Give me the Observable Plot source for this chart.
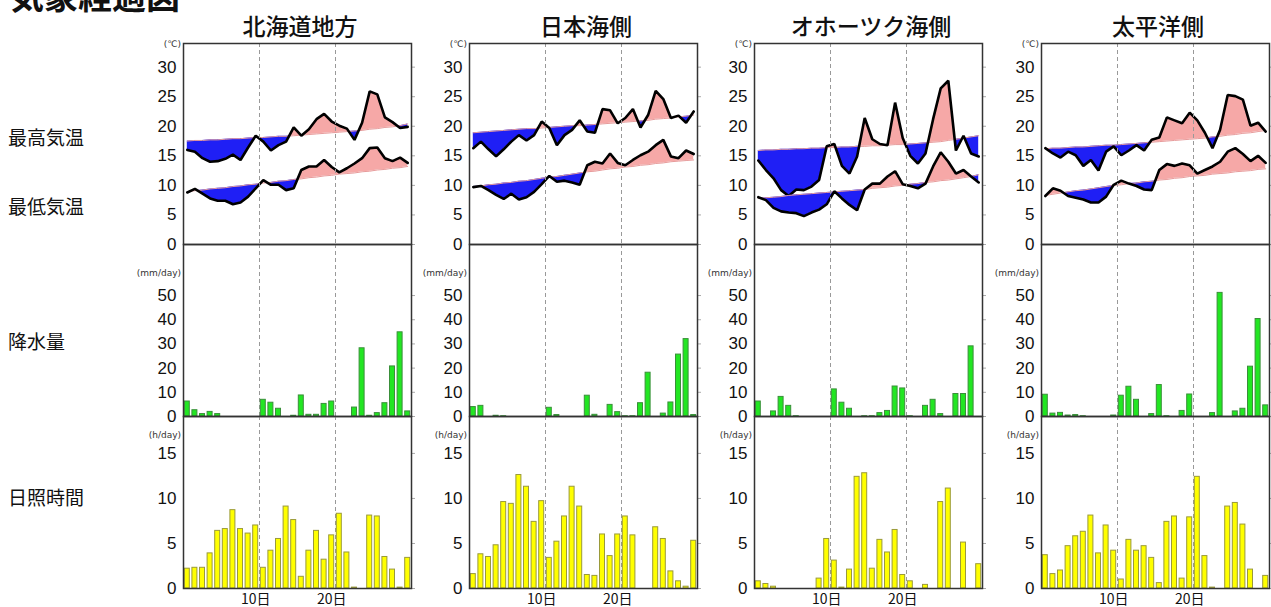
<!DOCTYPE html>
<html>
<head>
<meta charset="utf-8">
<script src="https://cdn.jsdelivr.net/npm/d3@7"></script>
<script src="https://cdn.jsdelivr.net/npm/@observablehq/plot@0.6"></script>
<style>
  html, body { margin: 0; padding: 0; background: #fff; overflow: hidden; }
  #chart { position: relative; width: 1271px; height: 607px; overflow: hidden; background: #fff; }
  .lbl { position: absolute; white-space: nowrap; color: #111; font-family: "Noto Sans CJK JP", "Noto Sans", sans-serif; }
  .unit { position: absolute; white-space: nowrap; color: #333; font-family: "DejaVu Sans", "Liberation Sans", sans-serif; font-size: 9px; }
</style>
</head>
<body>
<div id="chart"></div>
<script>
// ---------------- data ----------------
const title = "気象経過図";
const regions = ["北海道地方", "日本海側", "オホーツク海側", "太平洋側"];
const rowLabels = ["最高気温", "最低気温", "降水量", "日照時間"];
const days = [1,2,3,4,5,6,7,8,9,10,11,12,13,14,15,16,17,18,19,20,21,22,23,24,25,26,27,28,29,30];
const decadeBoundaries = [10.5, 20.5];
const xTickDays = [10, 20];
const xTickLabels = ["10日", "20日"];
const tempTicks = [0, 5, 10, 15, 20, 25, 30];
const precipTicks = [0, 10, 20, 30, 40, 50];
const sunTicks = [0, 5, 10, 15];
const tempUnit = "(℃)", precipUnit = "(mm/day)", sunUnit = "(h/day)";

// 北海道地方
const hokkaidoMax = [16.0,15.7,14.6,14.0,14.1,14.5,15.2,14.3,16.4,18.4,17.4,15.9,16.8,17.4,19.8,18.4,19.5,21.2,22.1,20.8,20.1,19.6,17.7,20.6,25.9,25.4,21.5,20.7,19.7,19.9];
const hokkaidoMaxNormal = [17.5,17.6,17.6,17.7,17.7,17.8,17.9,17.9,18.0,18.1,18.1,18.2,18.3,18.3,18.4,18.5,18.6,18.7,18.8,18.9,19.0,19.1,19.2,19.3,19.5,19.6,19.8,19.9,20.1,20.4];
const hokkaidoMin = [8.8,9.4,8.6,7.8,7.4,7.4,6.8,7.1,8.1,9.5,10.9,10.1,10.1,9.2,9.5,12.6,13.2,13.2,14.3,13.1,12.2,12.9,13.7,14.6,16.3,16.4,14.6,14.1,14.7,13.8];
const hokkaidoMinNormal = [8.9,9.1,9.2,9.4,9.5,9.6,9.8,9.9,10.1,10.2,10.4,10.5,10.7,10.8,11.0,11.1,11.3,11.4,11.6,11.7,11.9,12.0,12.1,12.3,12.4,12.6,12.7,12.9,13.0,13.2];
const hokkaidoPrecip = [6.2,2.6,1.0,1.9,1.0,0,0,0,0,0,6.9,5.7,3.2,0,0.3,8.7,0.7,0.7,5.2,6.2,0,0,3.7,28.2,0.3,1.4,5.5,20.7,34.8,2.1];
const hokkaidoSun = [2.2,2.3,2.3,3.9,6.4,6.6,8.7,6.6,6.1,7.0,2.3,4.2,5.5,9.1,7.6,1.3,4.2,6.4,3.2,5.9,8.3,4.0,0.1,0,8.1,8.0,3.5,2.1,0.1,3.4];

// 日本海側
const japanSeaMax = [16.3,17.4,16.1,14.9,16.1,17.4,18.5,17.6,18.5,20.8,19.7,16.8,18.5,19.4,21.0,19.1,18.9,22.9,22.7,20.5,21.4,22.9,19.8,21.9,26.0,24.6,21.4,21.8,20.6,22.5];
const japanSeaMaxNormal = [18.9,19.0,19.1,19.2,19.3,19.4,19.5,19.6,19.6,19.7,19.8,19.9,20.0,20.1,20.1,20.2,20.3,20.4,20.5,20.6,20.7,20.8,20.9,21.0,21.2,21.3,21.4,21.6,21.7,21.9];
const japanSeaMin = [9.7,9.9,9.2,8.4,7.7,8.6,7.6,8.0,8.9,10.2,11.6,10.6,10.8,10.5,10.1,13.4,14.0,13.7,15.4,13.8,13.4,14.3,15.1,15.7,16.8,17.7,14.9,14.6,15.9,15.3];
const japanSeaMinNormal = [9.8,9.9,10.1,10.2,10.4,10.5,10.7,10.8,11.0,11.2,11.4,11.5,11.7,11.9,12.1,12.3,12.4,12.6,12.8,12.9,13.1,13.2,13.4,13.5,13.7,13.8,14.0,14.1,14.2,14.3];
const japanSeaPrecip = [3.9,4.4,0,0.3,0.1,0,0,0,0,0,3.6,0.6,0,0,0,8.6,0.7,0,4.8,1.8,0.1,0.1,5.5,18.1,0,1.2,5.8,25.6,32.0,0.6];
const japanSeaSun = [1.6,3.8,3.5,4.8,9.6,9.4,12.6,11.3,7.4,9.7,3.4,5.2,8.0,11.3,9.1,1.5,1.4,6.0,3.6,6.0,8.0,5.9,0,0,6.8,5.5,1.9,0.8,0.2,5.3];

// オホーツク海側
const okhotskMax = [14.2,12.6,11.2,9.2,8.2,9.3,9.2,9.8,10.9,16.6,17.0,13.3,12.0,14.9,21.4,17.8,17.0,16.8,24.0,18.0,15.0,13.7,15.4,21.2,26.4,27.7,15.9,18.4,15.4,14.9];
const okhotskMaxNormal = [15.9,16.0,16.0,16.1,16.1,16.2,16.2,16.3,16.3,16.4,16.4,16.5,16.5,16.6,16.6,16.7,16.7,16.8,16.9,16.9,17.0,17.1,17.2,17.3,17.4,17.6,17.8,18.0,18.2,18.4];
const okhotskMin = [8.0,7.5,6.2,5.6,5.4,5.3,4.8,5.4,5.9,6.8,9.0,7.8,6.7,5.8,9.3,10.3,10.3,11.5,12.4,10.2,9.9,9.5,10.3,13.2,15.6,14.0,12.0,12.6,11.5,10.5];
const okhotskMinNormal = [7.8,7.9,8.0,8.1,8.3,8.4,8.5,8.6,8.7,8.8,8.9,9.0,9.1,9.2,9.3,9.5,9.6,9.7,9.9,10.0,10.2,10.3,10.5,10.6,10.8,10.9,11.1,11.3,11.5,11.8];
const okhotskPrecip = [6.2,0,2.1,8.1,4.4,0.1,0,0,0,0,11.2,5.7,3.2,0,0.1,0.1,1.4,2.3,12.4,11.6,0.1,0,4.4,6.9,1.0,0,9.3,9.3,29.0,0];
const okhotskSun = [0.8,0.5,0.2,0,0,0,0,0,1.1,5.5,3.1,0.1,2.1,12.4,12.8,2.2,5.4,4.0,6.5,1.5,0.8,0,0.4,0,9.6,11.1,0,5.1,0,2.7];

// 太平洋側
const pacificMax = [16.3,15.4,14.7,15.7,15.1,13.3,14.3,12.5,15.7,16.6,15.1,15.9,16.8,15.9,17.7,18.1,21.5,21.0,20.5,22.3,21.0,18.9,16.3,19.4,25.3,25.1,24.5,20.1,20.6,19.1];
const pacificMaxNormal = [16.2,16.3,16.3,16.4,16.5,16.5,16.6,16.7,16.8,16.8,16.9,17.0,17.1,17.2,17.3,17.4,17.5,17.6,17.7,17.8,17.9,18.0,18.2,18.3,18.5,18.6,18.8,18.9,19.1,19.3];
const pacificMin = [8.2,9.5,9.1,8.2,7.9,7.6,7.1,7.1,8.1,10.1,10.8,10.3,9.9,9.3,9.2,12.6,13.6,13.3,13.7,13.4,12.0,12.6,13.2,14.0,15.7,16.3,15.3,14.1,15.0,13.8];
const pacificMinNormal = [8.3,8.5,8.7,8.9,9.1,9.2,9.4,9.6,9.8,10.0,10.1,10.3,10.4,10.6,10.7,10.9,11.0,11.2,11.3,11.5,11.6,11.7,11.9,12.0,12.1,12.3,12.4,12.5,12.7,12.8];
const pacificPrecip = [9.0,1.2,1.5,0.4,0.6,0.1,0,0,0,0.4,8.6,12.3,6.9,0,1.0,13.0,0.1,0,2.3,9.1,0,0,1.4,51.1,0,2.1,3.2,20.6,40.3,4.6];
const pacificSun = [3.7,1.6,2.0,4.7,5.8,6.3,8.1,3.9,7.0,4.2,1.0,5.4,4.2,4.7,3.4,0.6,7.4,8.0,1.1,7.9,12.4,3.6,0.1,0,9.1,9.5,7.1,2.1,0,1.4];

const series = [
  {max: hokkaidoMax, maxN: hokkaidoMaxNormal, min: hokkaidoMin, minN: hokkaidoMinNormal, precip: hokkaidoPrecip, sun: hokkaidoSun},
  {max: japanSeaMax, maxN: japanSeaMaxNormal, min: japanSeaMin, minN: japanSeaMinNormal, precip: japanSeaPrecip, sun: japanSeaSun},
  {max: okhotskMax, maxN: okhotskMaxNormal, min: okhotskMin, minN: okhotskMinNormal, precip: okhotskPrecip, sun: okhotskSun},
  {max: pacificMax, maxN: pacificMaxNormal, min: pacificMin, minN: pacificMinNormal, precip: pacificPrecip, sun: pacificSun}
];

// ---------------- layout / style ----------------
const BLUE = "#1f1ff5", PINK = "#f6a8a7", NORMAL = "#e79b9b";
const GREEN = "#22e622", GREEN_S = "#3a8f3a";
const YELLOW = "#ffff00", YELLOW_S = "#9a9a3a";
const FRAME = "#333";
const panelLefts = [183, 469, 754, 1041];
const PW = 228, ML = 50, MR = 10, MT = 10;
const rowTop = [43, 244, 416], rowH = [201, 172, 172];
const NUMFONT = "'Liberation Sans', Arial, Helvetica, sans-serif";

const chart = document.getElementById("chart");
function addDiv(cls, text, css) {
  const d = document.createElement("div");
  d.className = cls; d.textContent = text;
  Object.assign(d.style, css);
  chart.appendChild(d);
  return d;
}
function place(svg, left, top) {
  svg.style.position = "absolute";
  svg.style.left = left + "px";
  svg.style.top = top + "px";
  chart.appendChild(svg);
}

function withCrossings(v, n) {
  const out = [];
  for (let i = 0; i < days.length; i++) {
    out.push({x: days[i], v: v[i], n: n[i]});
    if (i < days.length - 1) {
      const d0 = v[i] - n[i], d1 = v[i + 1] - n[i + 1];
      if (d0 * d1 < 0) {
        const t = d0 / (d0 - d1);
        out.push({x: days[i] + t, v: v[i] + t * (v[i + 1] - v[i]), n: n[i] + t * (n[i + 1] - n[i])});
      }
    }
  }
  return out;
}

function tempMarks(v, n) {
  const aug = withCrossings(v, n);
  const pts = days.map((d, i) => ({x: d, v: v[i], n: n[i]}));
  return [
    Plot.areaY(aug, {x: "x", y1: "n", y2: d => Math.min(d.v, d.n), fill: BLUE}),
    Plot.areaY(aug, {x: "x", y1: "n", y2: d => Math.max(d.v, d.n), fill: PINK}),
    Plot.line(pts, {x: "x", y: "n", stroke: NORMAL, strokeWidth: 1}),
    Plot.line(pts, {x: "x", y: "v", stroke: "#000", strokeWidth: 2.6, strokeLinejoin: "miter"})
  ];
}

function baseOpts(h, extra) {
  return Object.assign({
    width: ML + PW + MR,
    height: MT + h + 25,
    marginLeft: ML, marginRight: MR, marginTop: MT, marginBottom: 25,
    x: {domain: [0.5, 30.5], axis: null},
    style: {background: "transparent", overflow: "visible", fontFamily: NUMFONT, fontSize: "17px", color: "#111"}
  }, extra);
}

function commonMarks(ticks) {
  return [
    Plot.ruleX(decadeBoundaries, {stroke: "#999", strokeWidth: 1, strokeDasharray: "4,3"}),
    Plot.axisY({ticks, tickSize: 0, tickPadding: 7, fill: "#111", label: null}),
    Plot.axisY({ticks, anchor: "right", tickSize: 3, stroke: "#aaa", tickFormat: () => "", label: null})
  ];
}

regions.forEach((name, i) => {
  const s = series[i];
  const L = panelLefts[i];

  // temperature
  const t = Plot.plot(baseOpts(rowH[0], {
    y: {domain: [0, 34], axis: null, label: null},
    marks: [
      ...tempMarks(s.max, s.maxN),
      ...tempMarks(s.min, s.minN),
      ...commonMarks(tempTicks),
      Plot.frame({stroke: FRAME, strokeWidth: 1.5})
    ]
  }));
  place(t, L - ML, rowTop[0] - MT);

  // precipitation
  const pd = days.map((d, j) => ({x: d, v: s.precip[j]})).filter(d => d.v > 0);
  const p = Plot.plot(baseOpts(rowH[1], {
    y: {domain: [0, 71.1], axis: null, label: null},
    marks: [
      ...commonMarks(precipTicks),
      Plot.rect(pd, {x1: d => d.x - 0.5, x2: d => d.x + 0.5, y1: 0, y2: "v", insetLeft: 1.3, insetRight: 1.3, fill: GREEN, stroke: GREEN_S, strokeWidth: 1}),
      Plot.frame({stroke: FRAME, strokeWidth: 1.5})
    ]
  }));
  place(p, L - ML, rowTop[1] - MT);

  // sunshine
  const sd = days.map((d, j) => ({x: d, v: s.sun[j]})).filter(d => d.v > 0);
  const su = Plot.plot(baseOpts(rowH[2], {
    y: {domain: [0, 19.1], axis: null, label: null},
    marks: [
      ...commonMarks(sunTicks),
      Plot.rect(sd, {x1: d => d.x - 0.5, x2: d => d.x + 0.5, y1: 0, y2: "v", insetLeft: 1.3, insetRight: 1.3, fill: YELLOW, stroke: YELLOW_S, strokeWidth: 1}),
      Plot.axisX({ticks: xTickDays, tickFormat: d => xTickLabels[xTickDays.indexOf(d)], tickSize: 0, tickPadding: 6, fontSize: 14, fontFamily: "'Noto Sans CJK JP', sans-serif", fill: "#111", label: null}),
      Plot.frame({stroke: FRAME, strokeWidth: 1.5})
    ]
  }));
  place(su, L - ML, rowTop[2] - MT);

  // column title
  addDiv("lbl", name, {left: (L + PW / 2 + 3) + "px", top: "10px", transform: "translateX(-50%)", fontSize: "23px", lineHeight: "30px", fontWeight: "500"});
  // units
  addDiv("unit", tempUnit, {left: (L - 2) + "px", top: "39px", transform: "translateX(-100%)"});
  addDiv("unit", precipUnit, {left: (L - 2) + "px", top: "268px", transform: "translateX(-100%)"});
  addDiv("unit", sunUnit, {left: (L - 2) + "px", top: "430px", transform: "translateX(-100%)"});
});

// row labels
const rowLabelY = [137, 206, 341, 497];
rowLabels.forEach((r, i) => addDiv("lbl", r, {left: "8px", top: (rowLabelY[i] - 13) + "px", fontSize: "19px", lineHeight: "26px"}));

// title (cut at the top edge)
addDiv("lbl", title, {left: "10px", top: "-22px", fontSize: "34px", lineHeight: "34px", fontWeight: "700"});
</script>
</body>
</html>
